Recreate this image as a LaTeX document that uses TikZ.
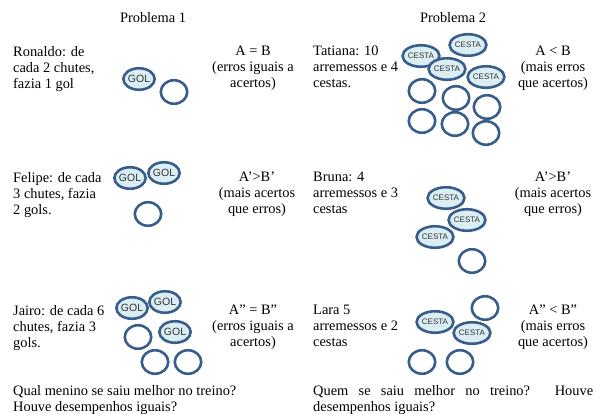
\documentclass[tikz,border=0pt]{standalone}
\usepackage{fontspec}
\setmainfont{Liberation Serif}
\newfontfamily\rotulofont{Liberation Sans}
\usetikzlibrary{positioning, shapes.geometric}
\definecolor{borda}{RGB}{56,93,138}
\definecolor{preenche}{RGB}{219,238,244}
\tikzset{
  bola/.style={ellipse, draw=borda, line width=2.6pt, inner sep=0pt, text=black!80},
  gol/.style={bola, fill=preenche, minimum width=24.5pt, minimum height=21.5pt, font=\rotulofont\fontsize{10.5}{10}\selectfont},
  cesta/.style={bola, fill=preenche, minimum width=24.5pt, minimum height=21.5pt, font=\rotulofont\fontsize{8}{8}\selectfont},
  vazio/.style={bola, fill=white, minimum width=26.5pt, minimum height=23.5pt},
  texto/.style={anchor=north west, align=left, inner sep=0pt, font=\fontsize{14.4}{16}\selectfont},
  razao/.style={anchor=north, align=center, inner sep=0pt, font=\fontsize{14.4}{16}\selectfont},
  titulo/.style={anchor=base, inner sep=0pt, font=\fontsize{14.4}{16}\selectfont}
}

\begin{document}
\begin{tikzpicture}[x=1pt, y=-1pt]
          \useasboundingbox (0,0) rectangle (596,414);
          % Titles
          \node[titulo] (p1) at (153,23) {Problema 1};
          \node[titulo] (p2) at (453,23) {Problema 2};
          % Problema 1: Ronaldo
          \node[texto] (ronaldo) at (13,46) {Ronaldo: de\\cada 2 chutes,\\fazia 1 gol};
          \node[gol] (r1) at (139,79) {GOL};
          \node[vazio] (r2) at (174,92) {};
          \node[razao] (rA) at (253,46) {A = B\\(erros iguais a\\acertos)};
          % Problema 1: Felipe
          \node[texto] (felipe) at (13,172) {Felipe: de cada\\3 chutes, fazia\\2 gols.};
          \node[gol] (f1) at (130,178) {GOL};
          \node[gol] (f2) at (164,173) {GOL};
          \node[vazio] (f3) at (148,214) {};
          \node[razao] (fA) at (257,172) {A'>B'\\(mais acertos\\que erros)};
          % Problema 1: Jairo
          \node[texto] (jairo) at (13,305) {Jairo: de cada 6\\chutes, fazia 3\\gols.};
          \node[gol] (j1) at (132,308) {GOL};
          \node[gol] (j2) at (165,302) {GOL};
          \node[gol] (j3) at (175,332) {GOL};
          \foreach \n/\x/\y in {4/138/337, 5/155/362, 6/188/362}
            \node[vazio] (j\n) at (\x,\y) {};
          \node[razao] (jA) at (253,305) {A'' = B''\\(erros iguais a\\acertos)};
          \node[texto] (q1) at (13,385) {Qual menino se saiu melhor no treino?\\Houve desempenhos iguais?};
          % Problema 2: Tatiana
          \node[texto] (tatiana) at (313,46) {Tatiana: 10\\arremessos e 4\\cestas.};
          \foreach \n/\x/\y in {1/421/56, 2/468/45, 3/447/69, 4/486/77}
            \node[cesta] (t\n) at (\x,\y) {CESTA};
          \foreach \n/\x/\y in {5/422/91, 6/456/98, 7/487/107, 8/422/121, 9/455/124, 10/486/133}
            \node[vazio] (t\n) at (\x,\y) {};
          \node[razao] (tA) at (553,46) {A < B\\(mais erros\\que acertos)};
          % Problema 2: Bruna
          \node[texto] (bruna) at (313,172) {Bruna: 4\\arremessos e 3\\cestas};
          \node[cesta] (b1) at (446,198) {CESTA};
          \node[cesta] (b2) at (467,220) {CESTA};
          \node[cesta] (b3) at (435,237) {CESTA};
          \node[vazio] (b4) at (472,261) {};
          \node[razao] (bA) at (553,172) {A'>B'\\(mais acertos\\que erros)};
          % Problema 2: Lara
          \node[texto] (lara) at (313,305) {Lara 5\\arremessos e 2\\cestas};
          \node[vazio] (l1) at (485,308) {};
          \node[cesta] (l2) at (435,322) {CESTA};
          \node[cesta] (l3) at (472,333) {CESTA};
          \node[vazio] (l4) at (422,362) {};
          \node[vazio] (l5) at (460,362) {};
          \node[razao] (lA) at (553,305) {A'' < B''\\(mais erros\\que acertos)};
          \node[texto] (q2) at (313,385) {\makebox[280pt][s]{Quem se saiu melhor no treino? Houve}\\desempenhos iguais?};
        \end{tikzpicture}
\end{document}
